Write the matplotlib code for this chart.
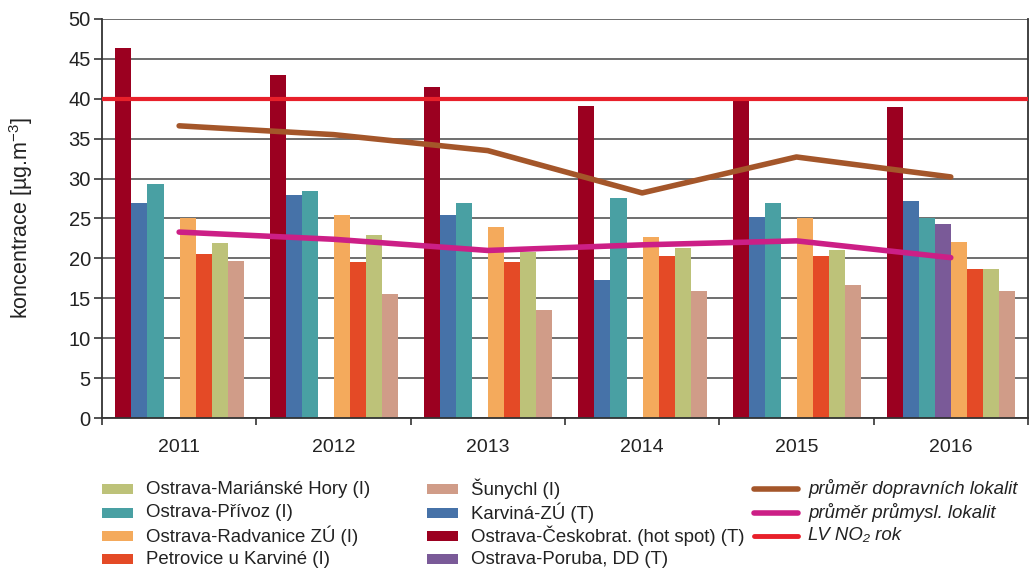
import numpy as np
import matplotlib.pyplot as plt
from matplotlib.patches import Rectangle
from matplotlib.lines import Line2D

plt.rcParams['font.family'] = ['Liberation Sans', 'DejaVu Sans']
plt.rcParams['mathtext.fontset'] = 'custom'
plt.rcParams['mathtext.rm'] = 'Liberation Sans'

years = ['2011', '2012', '2013', '2014', '2015', '2016']

# bar series, in drawing order within each year group
ceskobrat = [46.4, 43.0, 41.4, 39.1, 39.8, 39.0]
karvina = [27.0, 28.0, 25.5, 17.3, 25.2, 27.2]
privoz = [29.3, 28.5, 26.9, 27.6, 27.0, 25.0]
poruba = [np.nan, np.nan, np.nan, np.nan, np.nan, 24.3]
radvanice = [25.1, 25.5, 23.9, 22.7, 25.1, 22.0]
petrovice = [20.6, 19.5, 19.6, 20.3, 20.3, 18.7]
marianske = [21.9, 22.9, 20.8, 21.3, 21.1, 18.7]
sunychl = [19.7, 15.5, 13.5, 15.9, 16.7, 15.9]

# averages and limit value
prumer_doprava = [36.6, 35.5, 33.5, 28.2, 32.7, 30.2]
prumer_prumysl = [23.3, 22.4, 21.0, 21.7, 22.2, 20.1]
limit_value = 40

bar_series = [
    (ceskobrat, '#9b0020', 'Ostrava-Českobrat. (hot spot) (T)'),
    (karvina, '#4672a8', 'Karviná-ZÚ (T)'),
    (privoz, '#49a0a3', 'Ostrava-Přívoz (I)'),
    (poruba, '#7a5a98', 'Ostrava-Poruba, DD (T)'),
    (radvanice, '#f4aa5c', 'Ostrava-Radvanice ZÚ (I)'),
    (petrovice, '#e44a26', 'Petrovice u Karviné (I)'),
    (marianske, '#bdc279', 'Ostrava-Mariánské Hory (I)'),
    (sunychl, '#d09c88', 'Šunychl (I)'),
]
colors = {lab: c for _, c, lab in bar_series}
BROWN, PINK, RED = '#a4562a', '#cc1f86', '#e8202a'
TXT = '#222222'

W, H = 1030, 569
fig = plt.figure(figsize=(W / 100, H / 100), dpi=100)
ax = fig.add_axes([0.099, 0.265, 0.899, 0.702])

x = np.arange(len(years))
w = 0.104
start = 0.087
for i, (vals, c, lab) in enumerate(bar_series):
    ax.bar(x - 0.5 + start + w * (i + 0.5), vals, width=w, color=c, zorder=2)

ax.axhline(limit_value, color=RED, lw=3.0, zorder=4)
ax.plot(x, prumer_doprava, color=BROWN, lw=4.0, solid_capstyle='round', zorder=5)
ax.plot(x, prumer_prumysl, color=PINK, lw=4.0, solid_capstyle='round', zorder=5)

ax.set_xlim(-0.5, 5.5)
ax.set_ylim(0, 50)
ax.set_yticks(range(0, 51, 5))
ax.yaxis.grid(True, color='#555555', lw=1.2, zorder=0)
ax.set_axisbelow(True)
ax.set_xticks(x)
ax.set_xticklabels(years)
ax.set_xticks(np.arange(-0.5, 6, 1), minor=True)
ax.tick_params(axis='x', which='major', length=0, pad=15, labelsize=14, colors=TXT)
ax.tick_params(axis='x', which='minor', length=5, width=1.2, color='#333333')
ax.tick_params(axis='y', length=6, width=1.2, color='#333333', labelsize=14.5, pad=2,
               labelcolor=TXT)
for s in ['left', 'bottom', 'right']:
    ax.spines[s].set_color('#333333')
    ax.spines[s].set_linewidth(1.3)
ax.spines['top'].set_visible(False)
ax.set_ylabel('koncentrace [µg.m$^{\\mathregular{-3}}$]', fontsize=15.5, labelpad=24, color=TXT)

# legend, laid out by hand in three columns (pixel positions of the reference)
fs = 13.4
rows = [489, 512.5, 536, 559]
col1 = ['Ostrava-Mariánské Hory (I)', 'Ostrava-Přívoz (I)', 'Ostrava-Radvanice ZÚ (I)',
        'Petrovice u Karviné (I)']
col2 = ['Šunychl (I)', 'Karviná-ZÚ (T)', 'Ostrava-Českobrat. (hot spot) (T)',
        'Ostrava-Poruba, DD (T)']
for labels, x0 in [(col1, 102), (col2, 427)]:
    for lab, yc in zip(labels, rows):
        fig.patches.append(Rectangle((x0 / W, 1 - (yc + 5) / H), 31 / W, 10 / H,
                                     facecolor=colors[lab], transform=fig.transFigure))
        fig.text((x0 + 44) / W, 1 - yc / H, lab, fontsize=fs, va='center', ha='left', color=TXT)

line_items = [(BROWN, 4.0, 'průměr dopravních lokalit'),
              (PINK, 4.0, 'průměr průmysl. lokalit'),
              (RED, 3.5, 'LV NO₂ rok')]
for (c, lw, lab), yc in zip(line_items, rows):
    yy = 1 - yc / H
    fig.add_artist(Line2D([754 / W, 798 / W], [yy, yy], color=c, lw=lw,
                          solid_capstyle='round', transform=fig.transFigure))
    fig.text(808 / W, yy, lab, fontsize=fs, style='italic', va='center', ha='left', color=TXT)

fig.savefig('out.png', dpi=100)
